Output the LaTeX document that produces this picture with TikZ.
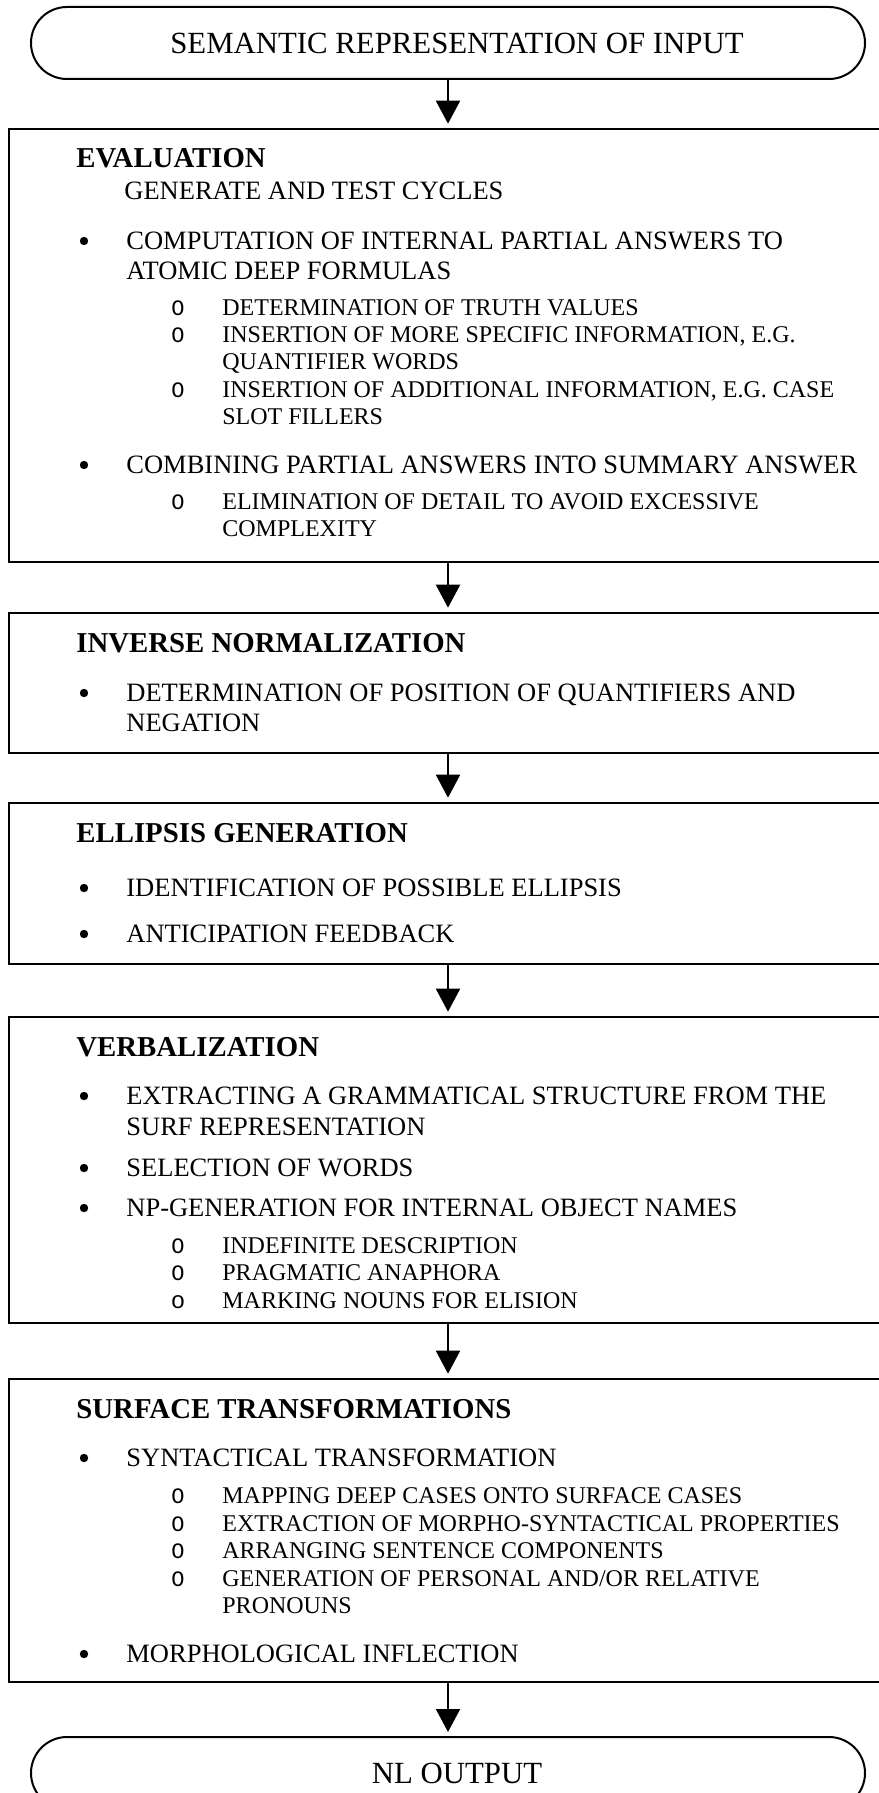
\documentclass[tikz,border=0pt]{standalone}
\usepackage{fontspec}
\setmainfont{Liberation Serif}
\newfontfamily\ringfont{Liberation Mono}
\usetikzlibrary{arrows.meta}

\tikzset{
  stage/.style={draw, line width=1.3pt, rectangle, minimum width=439pt, inner sep=0pt},
  terminal/.style={draw, line width=1pt, rounded corners=18pt, minimum width=417pt,
    minimum height=36pt, inner sep=0pt, font=\fontsize{15.4}{18}\selectfont},
  headtxt/.style={anchor=base west, inner sep=0pt, font=\fontsize{14.4}{17}\selectfont\bfseries},
  itemtxt/.style={anchor=base west, inner sep=0pt, font=\fontsize{13.25}{15}\selectfont},
  subtxt/.style={anchor=base west, inner sep=0pt, font=\fontsize{12}{14}\selectfont},
  dot/.style={circle, fill, inner sep=0pt, minimum size=4.2pt},
  ring/.style={anchor=base, inner sep=0pt, font=\fontsize{11}{12}\ringfont},
  flow/.style={-{Triangle[length=11.5pt,width=12pt]}, line width=1pt, shorten >=2pt}
}

% one bullet line, one circle line, one wrapped line
\def\dotline#1#2#3{
\node[dot] (#1d) at (84,#2-8) {};
\node[itemtxt] (#1) at (126,#2) {#3};
}
\def\ringline#1#2#3{
\node[ring] (#1r) at (178,#2) {O};
\node[subtxt] (#1) at (222,#2) {#3};
}
\def\moreline#1#2#3#4{
\node[#1] (#2) at (#3) {#4};
}

\begin{document}
\begin{tikzpicture}[x=0.5pt,y=-0.5pt]
  \useasboundingbox (0,0) rectangle (878,1793);

  \node[terminal] (src) at (448,43) {\hspace*{9pt}SEMANTIC REPRESENTATION OF INPUT};

  % evaluation
  \node[stage, minimum height=216.5pt] (eval) at (448,345.5) {};
  \node[headtxt] (evh) at (76,168) {EVALUATION};
  \node[itemtxt] (evg) at (124,199) {GENERATE AND TEST CYCLES};
  \dotline{ev1}{249}{COMPUTATION OF INTERNAL PARTIAL ANSWERS TO}
  \moreline{itemtxt}{ev1a}{126,279}{ATOMIC DEEP FORMULAS}
  \ringline{ev2}{315}{DETERMINATION OF TRUTH VALUES}
  \ringline{ev3}{342}{INSERTION OF MORE SPECIFIC INFORMATION, E.G.}
  \moreline{subtxt}{ev3a}{222,369}{QUANTIFIER WORDS}
  \ringline{ev4}{397}{INSERTION OF ADDITIONAL INFORMATION, E.G. CASE}
  \moreline{subtxt}{ev4a}{222,424}{SLOT FILLERS}
  \dotline{ev5}{473}{COMBINING PARTIAL ANSWERS INTO SUMMARY ANSWER}
  \ringline{ev6}{509}{ELIMINATION OF DETAIL TO AVOID EXCESSIVE}
  \moreline{subtxt}{ev6a}{222,536}{COMPLEXITY}

  % inverse normalization
  \node[stage, minimum height=70pt] (inv) at (448,683) {};
  \node[headtxt] (invh) at (76,652) {INVERSE NORMALIZATION};
  \dotline{in1}{701}{DETERMINATION OF POSITION OF QUANTIFIERS AND}
  \moreline{itemtxt}{in1a}{126,731}{NEGATION}

  % ellipsis
  \node[stage, minimum height=80.5pt] (ell) at (448,883.5) {};
  \node[headtxt] (ellh) at (76,842) {ELLIPSIS GENERATION};
  \dotline{el1}{896}{IDENTIFICATION OF POSSIBLE ELLIPSIS}
  \dotline{el2}{942}{ANTICIPATION FEEDBACK}

  % verbalization
  \node[stage, minimum height=153pt] (verb) at (448,1170) {};
  \node[headtxt] (verbh) at (76,1056) {VERBALIZATION};
  \dotline{ve1}{1104}{EXTRACTING A GRAMMATICAL STRUCTURE FROM THE}
  \moreline{itemtxt}{ve1a}{126,1135}{SURF REPRESENTATION}
  \dotline{ve2}{1176}{SELECTION OF WORDS}
  \dotline{ve3}{1216}{NP-GENERATION FOR INTERNAL OBJECT NAMES}
  \ringline{ve4}{1253}{INDEFINITE DESCRIPTION}
  \ringline{ve5}{1280}{PRAGMATIC ANAPHORA}
  \node[ring, font=\fontsize{12}{14}\ringfont] (ve6r) at (178,1308) {o};
  \node[subtxt] (ve6) at (222,1308) {MARKING NOUNS FOR ELISION};

  % surface
  \node[stage, minimum height=151.5pt] (surf) at (448,1530.5) {};
  \node[headtxt] (surfh) at (76,1418) {SURFACE TRANSFORMATIONS};
  \dotline{su1}{1466}{SYNTACTICAL TRANSFORMATION}
  \ringline{su2}{1503}{MAPPING DEEP CASES ONTO SURFACE CASES}
  \ringline{su3}{1531}{EXTRACTION OF MORPHO-SYNTACTICAL PROPERTIES}
  \ringline{su4}{1558}{ARRANGING SENTENCE COMPONENTS}
  \ringline{su5}{1586}{GENERATION OF PERSONAL AND/OR RELATIVE}
  \moreline{subtxt}{su5a}{222,1613}{PRONOUNS}
  \dotline{su6}{1662}{MORPHOLOGICAL INFLECTION}

  \node[terminal] (out) at (448,1773) {\hspace*{9pt}NL OUTPUT};

  \draw[flow] (src.south) -- (eval.north);
  \draw[flow] (eval.south) -- (inv.north);
  \draw[flow] (inv.south) -- (ell.north);
  \draw[flow] (ell.south) -- (verb.north);
  \draw[flow] (verb.south) -- (surf.north);
  \draw[flow] (surf.south) -- (out.north);
\end{tikzpicture}
\end{document}
